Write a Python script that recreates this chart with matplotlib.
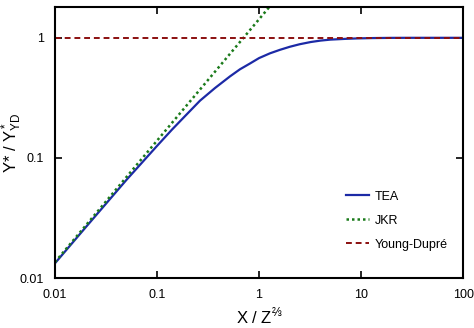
import matplotlib
matplotlib.use('Agg')
import matplotlib.pyplot as plt

plt.rcParams['font.family'] = ['Liberation Sans', 'DejaVu Sans']

# curves (log-log)
tea_x = [0.01, 0.02, 0.05, 0.1, 0.14, 0.19, 0.264, 0.37, 0.52, 0.65, 0.817,
         1.0, 1.28, 1.6, 2.0, 2.5, 3.2, 4.0, 5.0, 7.0, 9.0, 13.0, 20.0,
         30.0, 50.0, 100.0]
tea_y = [0.0133, 0.0265, 0.0655, 0.126, 0.172, 0.225, 0.300, 0.382, 0.478, 0.547, 0.612,
         0.678, 0.743, 0.794, 0.842, 0.884, 0.922, 0.948, 0.966, 0.980, 0.988, 0.995, 0.999,
         1.0, 1.0, 1.0]

jkr_x = [0.01, 1.3]
jkr_y = [0.0136, 1.86]

yd_x = [0.01, 100.0]
yd_y = [1.0, 1.0]

fig = plt.figure(figsize=(4.74, 3.28), dpi=100)
ax = fig.add_axes([0.116, 0.152, 0.861, 0.828])

ax.plot(tea_x, tea_y, color='#1c2aa6', lw=1.6, label='TEA')
ax.plot(jkr_x, jkr_y, color='#1a7a1a', lw=1.8, ls=(0, (1, 1.2)), label='JKR')
ax.plot(yd_x, yd_y, color='#8b0f0f', lw=1.4, ls=(0, (3, 2)), label='Young-Dupré')

ax.set_xscale('log')
ax.set_yscale('log')
ax.set_xlim(0.01, 100)
ax.set_ylim(0.01, 1.82)
ax.set_xticks([0.01, 0.1, 1, 10, 100])
ax.set_xticklabels(['0.01', '0.1', '1', '10', '100'])
ax.set_yticks([0.01, 0.1, 1])
ax.set_yticklabels(['0.01', '0.1', '1'])
ax.minorticks_off()
ax.tick_params(direction='in', length=5, width=1.2, top=True, right=True,
               labelsize=9, pad=8)
for s in ax.spines.values():
    s.set_linewidth(1.5)

ax.set_xlabel(r'X / Z$^{\mathregular{⅔}}$', fontsize=12, labelpad=3.5)
ax.set_ylabel(r'Y* / $\mathregular{Y^*_{YD}}$', fontsize=12)
ax.yaxis.set_label_coords(-0.077, 0.5)

ax.legend(loc='lower right', frameon=False, fontsize=9, handlelength=1.8,
          handletextpad=0.5, labelspacing=0.95, bbox_to_anchor=(0.99, 0.06))

fig.savefig('out.png', dpi=100)
